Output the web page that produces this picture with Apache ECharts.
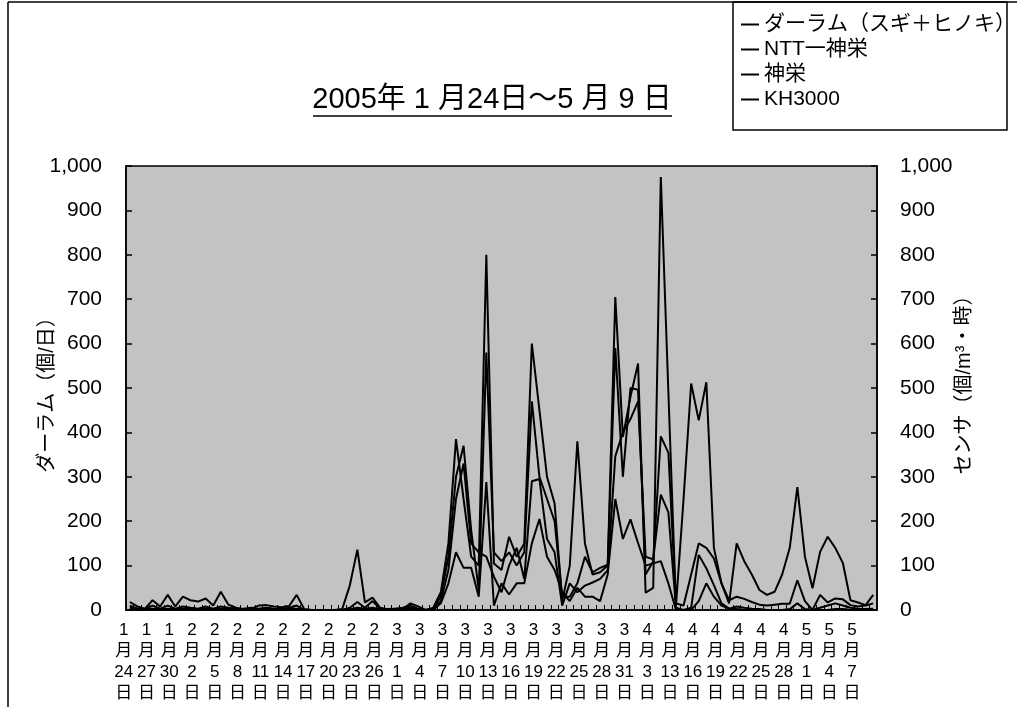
<!DOCTYPE html>
<html>
<head>
<meta charset="utf-8">
<script src="https://cdn.jsdelivr.net/npm/echarts@6/dist/echarts.min.js"></script>
<style>
html, body { margin: 0; padding: 0; background: #fff; }
#chart { width: 1017px; height: 707px; }
</style>
</head>
<body>
<div id="chart"></div>
<script>
// Observation days (4/4–4/10 are missing)
const dates = [
  '1/24','1/25','1/26','1/27','1/28','1/29','1/30','1/31',
  '2/1','2/2','2/3','2/4','2/5','2/6','2/7','2/8','2/9','2/10','2/11','2/12','2/13','2/14',
  '2/15','2/16','2/17','2/18','2/19','2/20','2/21','2/22','2/23','2/24','2/25','2/26','2/27','2/28',
  '3/1','3/2','3/3','3/4','3/5','3/6','3/7','3/8','3/9','3/10','3/11','3/12','3/13','3/14','3/15',
  '3/16','3/17','3/18','3/19','3/20','3/21','3/22','3/23','3/24','3/25','3/26','3/27','3/28','3/29',
  '3/30','3/31','4/1','4/2','4/3',
  '4/11','4/12','4/13','4/14','4/15','4/16','4/17','4/18','4/19','4/20','4/21','4/22','4/23','4/24',
  '4/25','4/26','4/27','4/28','4/29','4/30',
  '5/1','5/2','5/3','5/4','5/5','5/6','5/7','5/8','5/9'
];

const seriesNames = ['ダーラム（スギ＋ヒノキ）', 'NTT一神栄', '神栄', 'KH3000'];

// ダーラム (個/日)
const durham = [
  18, 8, 3, 22, 8, 34, 8, 30, 22, 19,
  26, 10, 41, 12, 5, 2, 3, 10, 11, 8,
  6, 9, 34, 2, 0, 0, 0, 0, 2, 55,
  136, 17, 28, 5, 2, 3, 2, 15, 8, 0,
  5, 40, 150, 385, 250, 120, 100, 800, 105, 90,
  165, 120, 150, 600, 450, 300, 240, 20, 100, 380,
  150, 80, 85, 100, 705, 390, 480, 555, 39, 50,
  975, 490, 10, 250, 510, 427, 513, 140, 60, 15,
  150, 110, 80, 45, 34, 41, 80, 140, 277, 120,
  49, 131, 165, 140, 106, 22, 17, 11, 34
];

// センサ (個/m3・時)
const nttShinei = [
  10, 3, 2, 10, 3, 10, 3, 8, 5, 3,
  8, 3, 8, 5, 3, 3, 5, 3, 5, 3,
  2, 5, 10, 0, 0, 0, 0, 0, 0, 5,
  18, 5, 20, 3, 2, 3, 5, 10, 3, 0,
  3, 30, 120, 300, 370, 180, 45, 580, 130, 110,
  130, 100, 130, 470, 300, 250, 200, 30, 30, 60,
  120, 85, 95, 102, 590, 300, 500, 496, 80, 110,
  391, 354, 15, 10, 80, 150, 140, 116, 60, 22,
  30, 25, 18, 12, 10, 12, 14, 14, 67, 20,
  0, 34, 17, 26, 24, 11, 8, 10, 15
];

const shinei = [
  5, 3, 2, 3, 2, 3, 2, 3, 3, 2,
  3, 2, 3, 3, 2, 2, 3, 2, 3, 2,
  2, 3, 3, 0, 0, 0, 0, 0, 0, 2,
  5, 3, 5, 2, 0, 2, 3, 5, 2, 0,
  2, 20, 90, 250, 330, 150, 130, 120, 75, 40,
  100, 140, 70, 290, 295, 160, 130, 10, 60, 40,
  55, 62, 70, 90, 346, 400, 430, 470, 120, 114,
  260, 220, 5, 0, 5, 124, 94, 56, 15, 3,
  8, 5, 3, 2, 0, 0, 0, 2, 15, 2,
  0, 5, 10, 15, 10, 5, 3, 2, 3
];

const kh3000 = [
  2, 0, 0, 2, 0, 2, 0, 2, 0, 0,
  2, 0, 2, 0, 0, 0, 0, 0, 0, 0,
  0, 0, 2, 0, 0, 0, 0, 0, 0, 0,
  2, 0, 2, 0, 0, 0, 0, 2, 0, 0,
  0, 15, 60, 130, 95, 95, 30, 288, 10, 60,
  35, 60, 60, 150, 205, 120, 90, 40, 20, 50,
  30, 30, 20, 80, 250, 160, 204, 151, 100, 105,
  110, 60, 0, 0, 0, 20, 60, 30, 10, 3,
  2, 0, 0, 0, 0, 0, 0, 0, 0, 0,
  0, 0, 0, 2, 2, 0, 0, 0, 0
];

const yMin = 0, yMax = 1000, yStep = 100;

const FONT = '"Liberation Sans", "Noto Sans CJK JP", sans-serif';
const NARROW = '"Liberation Sans Narrow", "Liberation Sans", "Noto Sans CJK JP", sans-serif';
const ink = '#000';

const chart = echarts.init(document.getElementById('chart'), null, { renderer: 'canvas' });

function lineSeries(name, data, yIdx) {
  return {
    name: name,
    type: 'line',
    data: data,
    xAxisIndex: 0,
    yAxisIndex: yIdx,
    symbol: 'none',
    lineStyle: { color: ink, width: 2 },
    itemStyle: { color: ink },
    animation: false
  };
}

function yAxisDef(pos, lblMargin) {
  return {
    type: 'value',
    gridIndex: 0,
    position: pos,
    min: yMin, max: yMax, interval: yStep,
    axisLine: { show: true, lineStyle: { color: ink, width: 1.5 } },
    axisTick: { show: true, inside: true, length: 6, lineStyle: { color: ink, width: 1.5 } },
    axisLabel: {
      color: ink, fontFamily: FONT, fontSize: 21, margin: lblMargin,
      formatter: v => v.toLocaleString('en-US')
    },
    splitLine: { show: false }
  };
}

// vertical date label: 1 / 月 / 24 / 日
const dateLabel = v => {
  const p = v.split('/');
  return p[0] + '\n月\n' + p[1] + '\n日';
};

chart.setOption({
  backgroundColor: '#fff',
  animation: false,
  grid: [
    {
      left: 126, right: 140, top: 166, bottom: 97,
      show: true, backgroundColor: '#c3c3c3', borderColor: ink, borderWidth: 1.5
    },
    // companion grid carrying the date labels, set slightly to the left
    { left: 120, right: 146, top: 166, bottom: 97, show: false }
  ],
  legend: {
    data: seriesNames,
    orient: 'vertical',
    left: 736, top: 9,
    itemWidth: 18, itemHeight: 2, itemGap: 4,
    icon: 'rect',
    textStyle: { fontFamily: NARROW, fontSize: 21, color: ink, lineHeight: 21 },
    selectedMode: false
  },
  xAxis: [
    {
      type: 'category',
      gridIndex: 0,
      data: dates,
      boundaryGap: true,
      axisLine: { show: true, lineStyle: { color: ink, width: 1.5 } },
      axisTick: { show: true, inside: true, length: 5, interval: 0, lineStyle: { color: ink, width: 1 } },
      axisLabel: { show: false },
      splitLine: { show: false }
    },
    {
      type: 'category',
      gridIndex: 1,
      data: dates,
      boundaryGap: true,
      axisLine: { show: false },
      axisTick: { show: false },
      axisLabel: {
        interval: 2,
        color: ink, fontFamily: NARROW, fontSize: 17, lineHeight: 21,
        margin: 10,
        formatter: dateLabel
      },
      splitLine: { show: false }
    }
  ],
  yAxis: [
    yAxisDef('left', 24),
    yAxisDef('right', 23),
    { type: 'value', gridIndex: 1, show: false, min: yMin, max: yMax }
  ],
  series: [
    lineSeries(seriesNames[0], durham, 0),
    lineSeries(seriesNames[1], nttShinei, 1),
    lineSeries(seriesNames[2], shinei, 1),
    lineSeries(seriesNames[3], kh3000, 1)
  ],
  graphic: [
    { type: 'line', shape: { x1: 8, y1: 2, x2: 1017, y2: 2 }, style: { stroke: ink, lineWidth: 1.5 } },
    { type: 'line', shape: { x1: 8, y1: 2, x2: 8, y2: 707 }, style: { stroke: ink, lineWidth: 1.5 } },
    {
      type: 'rect', z: -1,
      shape: { x: 733, y: 2, width: 274, height: 128 },
      style: { fill: '#fff', stroke: ink, lineWidth: 1.5 }
    },
    {
      type: 'text',
      style: {
        text: '2005年 1 月24日～5 月 9 日',
        x: 492, y: 100, align: 'center', verticalAlign: 'middle',
        font: '29px ' + NARROW, fill: ink
      }
    },
    { type: 'line', shape: { x1: 313, y1: 116, x2: 672, y2: 116 }, style: { stroke: ink, lineWidth: 1.5 } },
    // axis titles
    {
      type: 'text', x: 47, y: 390, rotation: Math.PI / 2,
      style: {
        text: 'ダーラム（個/日）', x: 0, y: 0, align: 'center', verticalAlign: 'middle',
        font: '20px ' + FONT, fill: ink
      }
    },
    {
      type: 'text', x: 964, y: 380, rotation: Math.PI / 2,
      style: {
        text: 'センサ（個/m³・時）', x: 0, y: 0, align: 'center', verticalAlign: 'middle',
        font: '20px ' + FONT, fill: ink
      }
    }
  ]
});
</script>
</body>
</html>
